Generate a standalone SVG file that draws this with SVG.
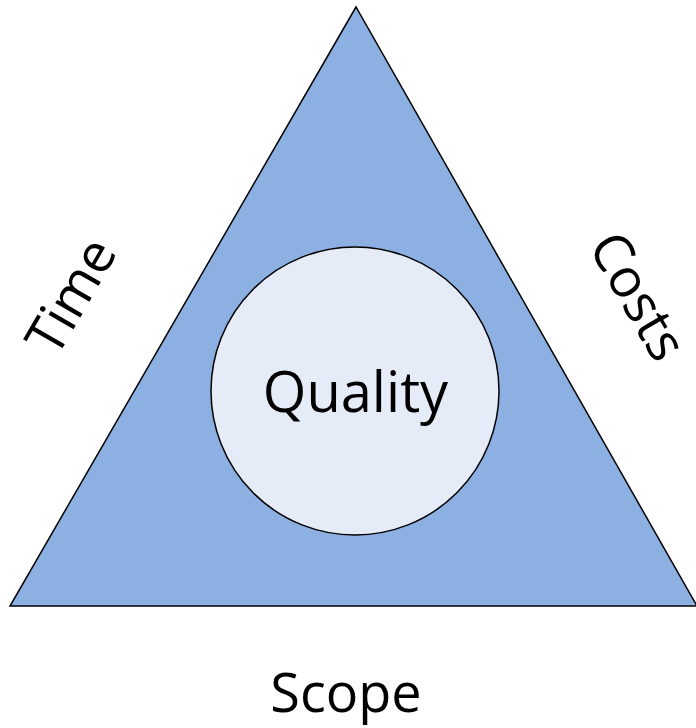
<svg xmlns="http://www.w3.org/2000/svg" width="696" height="728" viewBox="0 0 696 728">
<style>
.lbl{font-family:"Open Sans","Noto Sans","Liberation Sans",sans-serif;font-size:54px;fill:#000;text-anchor:middle}
.rot{dominant-baseline:central}
</style>
<rect width="696" height="728" fill="#fff"/>
<g id="triangle">
<polygon points="356,7 10,606 697,606" fill="#8DB0E3" stroke="#000" stroke-width="1.5" stroke-linejoin="miter"/>
</g>
<g id="quality">
<circle cx="355" cy="391" r="144" fill="#E6ECF7" stroke="#000" stroke-width="1.5"/>
<text class="lbl" x="355.5" y="412" style="font-size:56px">Quality</text>
</g>
<g id="time">
<text class="lbl rot" transform="translate(69,295) rotate(-60)">Time</text>
</g>
<g id="costs">
<text class="lbl rot" transform="translate(640,295) rotate(60)">Costs</text>
</g>
<g id="scope">
<text class="lbl" x="346" y="712">Scope</text>
</g>
<g id="connectors"/>
</svg>
